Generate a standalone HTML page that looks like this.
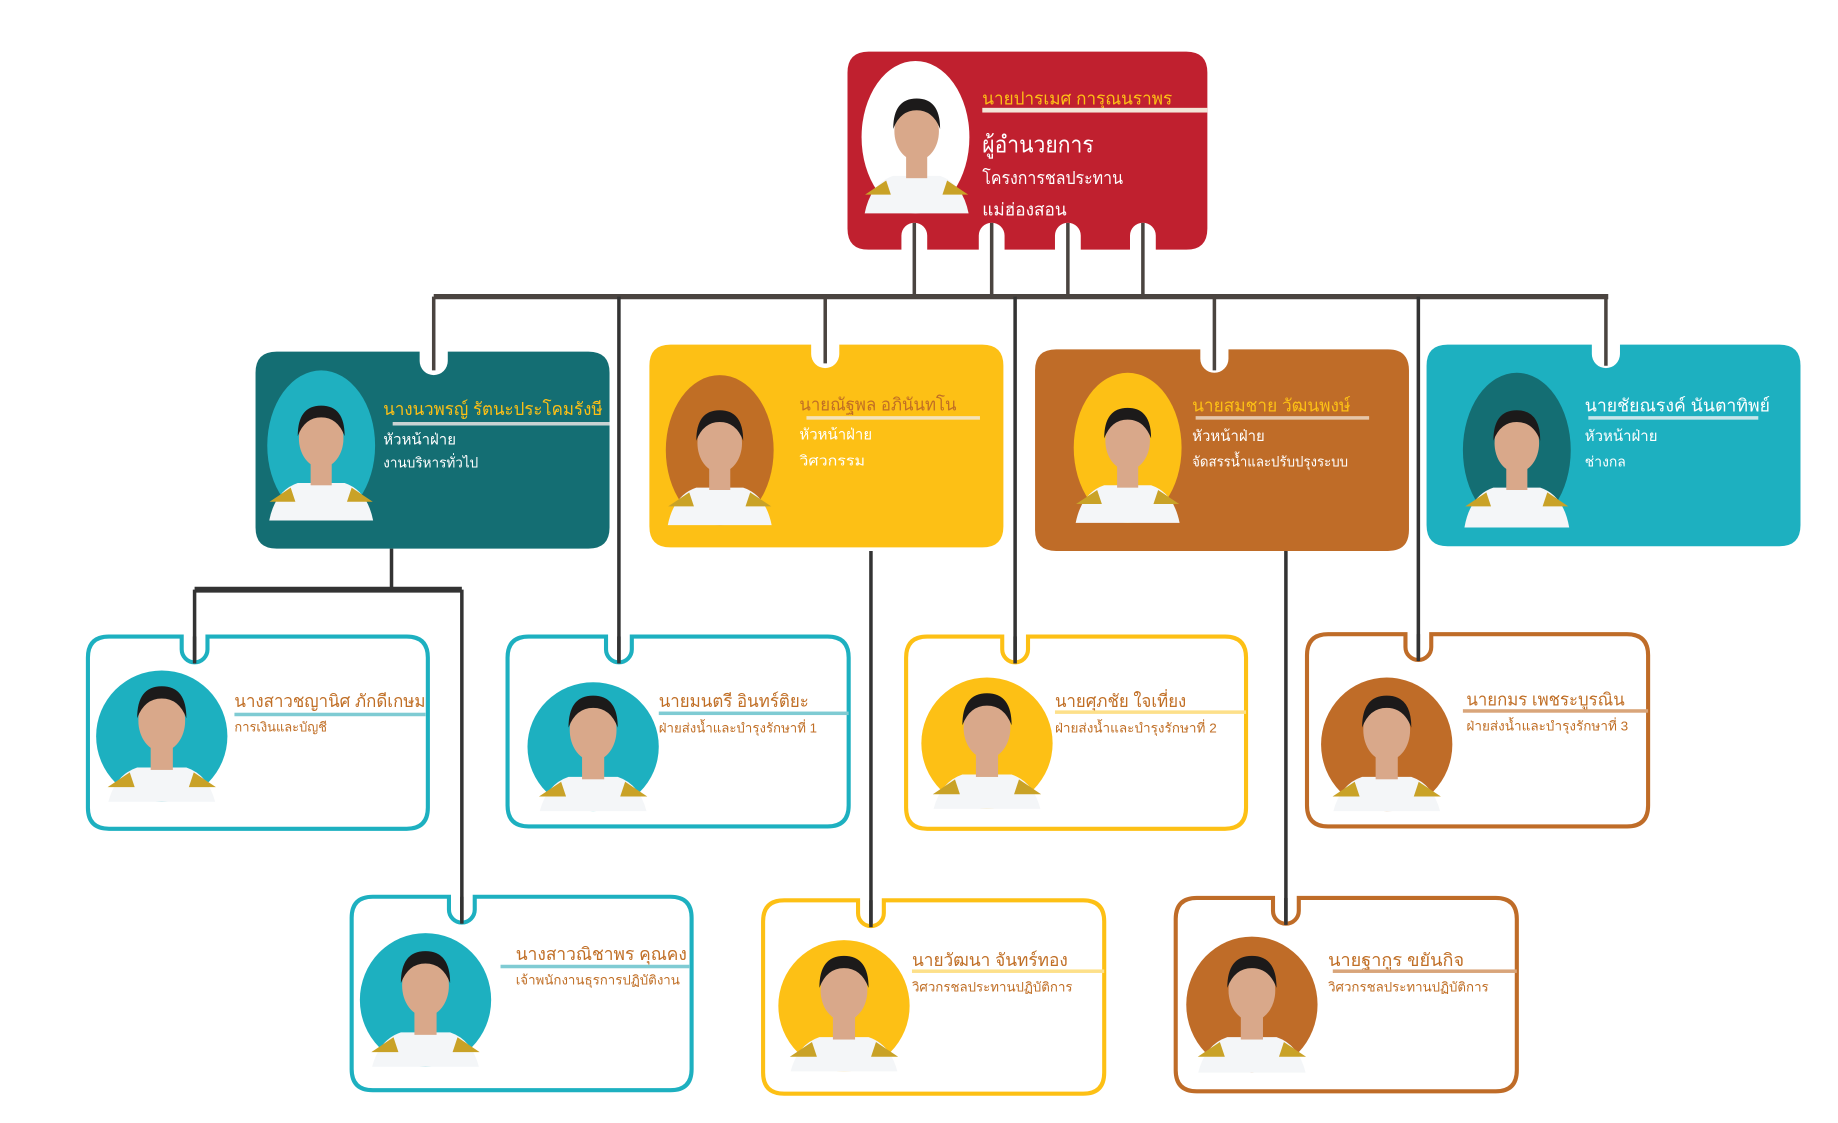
<!DOCTYPE html>
<html><head><meta charset="utf-8"><style>
html,body{margin:0;padding:0;background:#fff;width:1838px;height:1123px;overflow:hidden}
svg{display:block}
text{font-family:"Liberation Sans","DejaVu Sans",sans-serif}
</style></head><body>
<svg width="1838" height="1123" viewBox="0 0 1568 958" preserveAspectRatio="none">
<defs>
<g id="person">
<path d="M-46 60 Q-44 22 -20 14 L20 14 Q44 22 46 60 L46 80 L-46 80 Z" fill="#f4f6f8"/>
<path d="M-44 30 L-26 18 L-22 30 Z M44 30 L26 18 L22 30 Z" fill="#c9a227"/>
<rect x="-9" y="-4" width="18" height="20" fill="#d9a88a"/>
<ellipse cx="0" cy="-24" rx="19" ry="25" fill="#d9a88a"/>
<path d="M-20 -26 Q-20 -52 0 -52 Q20 -52 20 -26 Q14 -42 0 -42 Q-14 -42 -20 -26 Z" fill="#1c1a1a"/>
</g>
</defs>

<g stroke="#4a4440" stroke-width="3" fill="none">
<line x1="780" y1="190" x2="780" y2="253"/>
<line x1="846" y1="190" x2="846" y2="253"/>
<line x1="911" y1="190" x2="911" y2="253"/>
<line x1="975" y1="190" x2="975" y2="253"/>
<line x1="370" y1="253" x2="1372" y2="253" stroke-width="4.5"/>
<line x1="370" y1="253" x2="370" y2="316"/>
<line x1="704" y1="253" x2="704" y2="310"/>
<line x1="1036" y1="253" x2="1036" y2="316"/>
<line x1="1370" y1="253" x2="1370" y2="312"/>
</g>
<g stroke="#333" stroke-width="3" fill="none">
<line x1="528" y1="253" x2="528" y2="566"/>
<line x1="866" y1="253" x2="866" y2="566"/>
<line x1="1210" y1="253" x2="1210" y2="564"/>
<line x1="334" y1="468" x2="334" y2="504"/>
<line x1="166" y1="503" x2="394" y2="503" stroke-width="5"/>
<line x1="166" y1="503" x2="166" y2="566"/>
<line x1="394" y1="503" x2="394" y2="788"/>
<line x1="743" y1="470" x2="743" y2="791"/>
<line x1="1097" y1="470" x2="1097" y2="789"/>
</g>

<path d="M741 44 H1012 Q1030 44 1030 62 V195 Q1030 213 1012 213 H986 V201 A11 11 0 0 0 964 201 V213 H922 V201 A11 11 0 0 0 900 201 V213 H857 V201 A11 11 0 0 0 835 201 V213 H791 V201 A11 11 0 0 0 769 201 V213 H741 Q723 213 723 195 V62 Q723 44 741 44 Z" fill="#c0202f"/>
<ellipse cx="781" cy="117" rx="46" ry="65" fill="#fff"/>
<svg x="736" y="52" width="92" height="130" overflow="hidden"><g transform="translate(46,84)"><use href="#person"/></g></svg>
<text x="838" y="89" font-size="15" fill="#fdc015" textLength="162" lengthAdjust="spacingAndGlyphs">นายปารเมศ การุณนราพร</text>
<rect x="838" y="92" width="192" height="4" fill="#f3e6d8"/>
<text x="838" y="130" font-size="20" fill="#fff" textLength="95" lengthAdjust="spacingAndGlyphs">ผู้อำนวยการ</text>
<text x="838" y="157" font-size="15" fill="#fff" textLength="120" lengthAdjust="spacingAndGlyphs">โครงการชลประทาน</text>
<text x="838" y="184" font-size="15" fill="#fff" textLength="72" lengthAdjust="spacingAndGlyphs">แม่ฮ่องสอน</text>

<path d="M236 300 H358 V308 A12 12 0 0 0 382 308 V300 H502 Q520 300 520 318 V450 Q520 468 502 468 H236 Q218 468 218 450 V318 Q218 300 236 300 Z" fill="#146e73"/>
<path d="M572 294 H692 V302 A12 12 0 0 0 716 302 V294 H838 Q856 294 856 312 V449 Q856 467 838 467 H572 Q554 467 554 449 V312 Q554 294 572 294 Z" fill="#fdc015"/>
<path d="M901 298 H1024 V306 A12 12 0 0 0 1048 306 V298 H1184 Q1202 298 1202 316 V452 Q1202 470 1184 470 H901 Q883 470 883 452 V316 Q883 298 901 298 Z" fill="#bf6c28"/>
<path d="M1235 294 H1358 V302 A12 12 0 0 0 1382 302 V294 H1518 Q1536 294 1536 312 V448 Q1536 466 1518 466 H1235 Q1217 466 1217 448 V312 Q1217 294 1235 294 Z" fill="#1db0c0"/>

<ellipse cx="274" cy="380" rx="46" ry="64" fill="#1fb0c0"/>
<svg x="228" y="316" width="92" height="128"><g transform="translate(46,82)"><use href="#person"/></g></svg>
<ellipse cx="614" cy="384" rx="46" ry="64" fill="#c06e25"/>
<svg x="568" y="320" width="92" height="128"><g transform="translate(46,82)"><use href="#person"/></g></svg>
<ellipse cx="962" cy="382" rx="46" ry="64" fill="#fdc015"/>
<svg x="916" y="318" width="92" height="128"><g transform="translate(46,82)"><use href="#person"/></g></svg>
<ellipse cx="1294" cy="384" rx="46" ry="66" fill="#146e73"/>
<svg x="1248" y="318" width="92" height="132"><g transform="translate(46,84)"><use href="#person"/></g></svg>

<text x="327" y="354" font-size="15" fill="#fdc015" textLength="187" lengthAdjust="spacingAndGlyphs">นางนวพรญ์ รัตนะประโคมรังษี</text>
<rect x="335" y="360" width="185" height="3" fill="#c9d3d3"/>
<text x="327" y="379" font-size="13" fill="#fff" textLength="62" lengthAdjust="spacingAndGlyphs">หัวหน้าฝ่าย</text>
<text x="327" y="399" font-size="12" fill="#fff" textLength="81" lengthAdjust="spacingAndGlyphs">งานบริหารทั่วไป</text>

<text x="682" y="350" font-size="15" fill="#c06e25" textLength="134" lengthAdjust="spacingAndGlyphs">นายณัฐพล อภินันทโน</text>
<rect x="688" y="355" width="148" height="3" fill="#f5e3b8"/>
<text x="682" y="375" font-size="13" fill="#fff" textLength="62" lengthAdjust="spacingAndGlyphs">หัวหน้าฝ่าย</text>
<text x="682" y="397" font-size="12" fill="#fff" textLength="56" lengthAdjust="spacingAndGlyphs">วิศวกรรม</text>

<text x="1017" y="351" font-size="15" fill="#fdc015" textLength="135" lengthAdjust="spacingAndGlyphs">นายสมชาย วัฒนพงษ์</text>
<rect x="1020" y="355" width="148" height="3" fill="#e6c6a8"/>
<text x="1017" y="376" font-size="13" fill="#fff" textLength="62" lengthAdjust="spacingAndGlyphs">หัวหน้าฝ่าย</text>
<text x="1017" y="398" font-size="12" fill="#fff" textLength="133" lengthAdjust="spacingAndGlyphs">จัดสรรน้ำและปรับปรุงระบบ</text>

<text x="1352" y="351" font-size="15" fill="#fff" textLength="158" lengthAdjust="spacingAndGlyphs">นายชัยณรงค์ นันตาทิพย์</text>
<rect x="1355" y="355" width="145" height="3" fill="#c7e6ea"/>
<text x="1352" y="376" font-size="13" fill="#fff" textLength="62" lengthAdjust="spacingAndGlyphs">หัวหน้าฝ่าย</text>
<text x="1352" y="398" font-size="12" fill="#fff" textLength="35" lengthAdjust="spacingAndGlyphs">ช่างกล</text>

<g fill="#fff" stroke-width="3.5">
<path stroke="#1db0c0" d="M93 543 H155 V554 A11 11 0 0 0 177 554 V543 H347 Q365 543 365 561 V689 Q365 707 347 707 H93 Q75 707 75 689 V561 Q75 543 93 543 Z"/>
<path stroke="#1db0c0" d="M451 543 H517 V554 A11 11 0 0 0 539 554 V543 H706 Q724 543 724 561 V687 Q724 705 706 705 H451 Q433 705 433 687 V561 Q433 543 451 543 Z"/>
<path stroke="#fdc015" d="M791 543 H855 V554 A11 11 0 0 0 877 554 V543 H1045 Q1063 543 1063 561 V689 Q1063 707 1045 707 H791 Q773 707 773 689 V561 Q773 543 791 543 Z"/>
<path stroke="#bf6c28" d="M1133 541 H1199 V552 A11 11 0 0 0 1221 552 V541 H1388 Q1406 541 1406 559 V687 Q1406 705 1388 705 H1133 Q1115 705 1115 687 V559 Q1115 541 1133 541 Z"/>
<path stroke="#1db0c0" d="M318 765 H383 V776 A11 11 0 0 0 405 776 V765 H572 Q590 765 590 783 V912 Q590 930 572 930 H318 Q300 930 300 912 V783 Q300 765 318 765 Z"/>
<path stroke="#fdc015" d="M669 768 H732 V779 A11 11 0 0 0 754 779 V768 H924 Q942 768 942 786 V915 Q942 933 924 933 H669 Q651 933 651 915 V786 Q651 768 669 768 Z"/>
<path stroke="#bf6c28" d="M1021 766 H1086 V777 A11 11 0 0 0 1108 777 V766 H1276 Q1294 766 1294 784 V913 Q1294 931 1276 931 H1021 Q1003 931 1003 913 V784 Q1003 766 1021 766 Z"/>
</g>
<g stroke="#333" stroke-width="3">
<line x1="166" y1="543" x2="166" y2="566"/>
<line x1="528" y1="543" x2="528" y2="566"/>
<line x1="866" y1="543" x2="866" y2="566"/>
<line x1="1210" y1="541" x2="1210" y2="564"/>
<line x1="394" y1="765" x2="394" y2="788"/>
<line x1="743" y1="768" x2="743" y2="791"/>
<line x1="1097" y1="766" x2="1097" y2="789"/>
</g>

<ellipse cx="138" cy="628" rx="56" ry="56" fill="#1db0c0"/>
<svg x="82" y="572" width="112" height="112"><g transform="translate(56,68) scale(1.05)"><use href="#person"/></g></svg>
<ellipse cx="506" cy="637" rx="56" ry="55" fill="#1db0c0"/>
<svg x="450" y="582" width="112" height="110"><g transform="translate(56,66) scale(1.05)"><use href="#person"/></g></svg>
<ellipse cx="842" cy="634" rx="56" ry="56" fill="#fdc015"/>
<svg x="786" y="578" width="112" height="112"><g transform="translate(56,68) scale(1.05)"><use href="#person"/></g></svg>
<ellipse cx="1183" cy="635" rx="56" ry="57" fill="#bf6c28"/>
<svg x="1127" y="578" width="113" height="114"><g transform="translate(56,70) scale(1.05)"><use href="#person"/></g></svg>
<ellipse cx="363" cy="853" rx="56" ry="57" fill="#1db0c0"/>
<svg x="307" y="796" width="113" height="114"><g transform="translate(56,70) scale(1.05)"><use href="#person"/></g></svg>
<ellipse cx="720" cy="858" rx="56" ry="56" fill="#fdc015"/>
<svg x="664" y="802" width="112" height="112"><g transform="translate(56,68) scale(1.05)"><use href="#person"/></g></svg>
<ellipse cx="1068" cy="857" rx="56" ry="58" fill="#bf6c28"/>
<svg x="1012" y="800" width="113" height="115"><g transform="translate(56,70) scale(1.05)"><use href="#person"/></g></svg>

<g font-size="15" fill="#c06e25">
<text x="200" y="603" textLength="163" lengthAdjust="spacingAndGlyphs">นางสาวชญานิศ ภักดีเกษม</text>
<text x="562" y="603" textLength="128" lengthAdjust="spacingAndGlyphs">นายมนตรี อินทร์ติยะ</text>
<text x="900" y="603" textLength="112" lengthAdjust="spacingAndGlyphs">นายศุภชัย ใจเที่ยง</text>
<text x="1251" y="602" textLength="135" lengthAdjust="spacingAndGlyphs">นายกมร เพชระบูรณิน</text>
<text x="440" y="819" textLength="146" lengthAdjust="spacingAndGlyphs">นางสาวณิชาพร คุณคง</text>
<text x="778" y="824" textLength="133" lengthAdjust="spacingAndGlyphs">นายวัฒนา จันทร์ทอง</text>
<text x="1133" y="824" textLength="116" lengthAdjust="spacingAndGlyphs">นายฐากูร ขยันกิจ</text>
</g>
<rect x="200" y="608" width="163" height="3" fill="#7fcbd3"/>
<rect x="562" y="607" width="162" height="3" fill="#7fcbd3"/>
<rect x="900" y="606" width="163" height="3" fill="#fde08a"/>
<rect x="1248" y="605" width="158" height="3" fill="#d9a57a"/>
<rect x="427" y="823" width="161" height="3" fill="#7fcbd3"/>
<rect x="778" y="827" width="164" height="3" fill="#fde08a"/>
<rect x="1137" y="827" width="157" height="3" fill="#d9a57a"/>
<g font-size="11" fill="#c06e25">
<text x="200" y="624" textLength="79" lengthAdjust="spacingAndGlyphs">การเงินและบัญชี</text>
<text x="562" y="625" textLength="135" lengthAdjust="spacingAndGlyphs">ฝ่ายส่งน้ำและบำรุงรักษาที่ 1</text>
<text x="900" y="625" textLength="138" lengthAdjust="spacingAndGlyphs">ฝ่ายส่งน้ำและบำรุงรักษาที่ 2</text>
<text x="1251" y="623" textLength="138" lengthAdjust="spacingAndGlyphs">ฝ่ายส่งน้ำและบำรุงรักษาที่ 3</text>
<text x="440" y="840" textLength="140" lengthAdjust="spacingAndGlyphs">เจ้าพนักงานธุรการปฏิบัติงาน</text>
<text x="778" y="846" textLength="137" lengthAdjust="spacingAndGlyphs">วิศวกรชลประทานปฏิบัติการ</text>
<text x="1133" y="846" textLength="137" lengthAdjust="spacingAndGlyphs">วิศวกรชลประทานปฏิบัติการ</text>
</g>
</svg>
</body></html>
